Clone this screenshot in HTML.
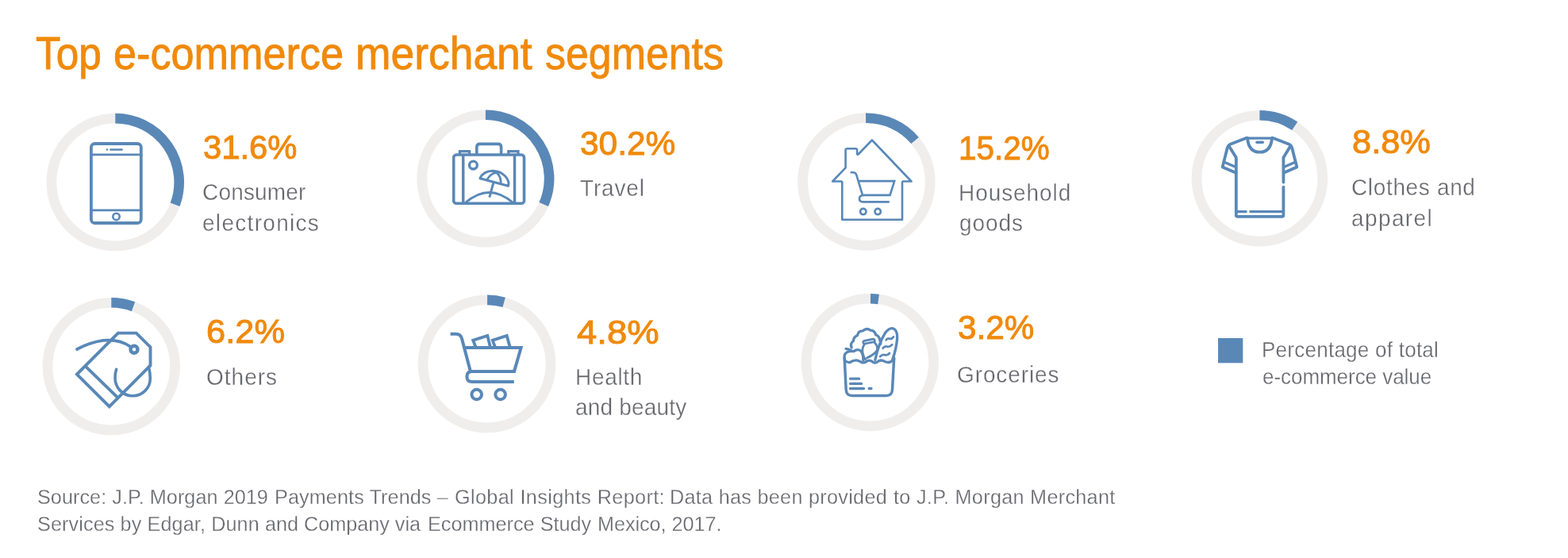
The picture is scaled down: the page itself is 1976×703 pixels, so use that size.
<!DOCTYPE html>
<html lang="en">
<head>
<meta charset="utf-8">
<title>Top e-commerce merchant segments</title>
<style>
html,body{margin:0;padding:0;background:#fff;}
body{width:1976px;height:703px;overflow:hidden;position:relative;font-family:"Liberation Sans",sans-serif;}
#g{position:absolute;left:0;top:0;width:1976px;height:703px;display:block;}
h1,p{margin:0;padding:0;font-size:inherit;font-weight:inherit;}
.x{position:absolute;white-space:nowrap;line-height:1;margin:0;padding:0;transform-origin:0 0;font-weight:400;}
.ic{fill:none;stroke:#5988B7;}
</style>
</head>
<body>
<svg id="g" width="1976" height="703" viewBox="0 0 1976 703" role="img" aria-label="Donut charts with icons for each merchant segment">
<circle cx="145.3" cy="229.5" r="80.40" fill="none" stroke="#F0EEED" stroke-width="12.8"/>
<path d="M145.30 149.10A80.40 80.40 0 0 1 220.56 257.79" fill="none" stroke="#5988B7" stroke-width="12.6"/>
<circle cx="611.9" cy="224.9" r="80.20" fill="none" stroke="#F0EEED" stroke-width="12.8"/>
<path d="M611.90 144.70A80.20 80.20 0 0 1 685.17 257.52" fill="none" stroke="#5988B7" stroke-width="12.6"/>
<circle cx="1091.9" cy="229.0" r="80.30" fill="none" stroke="#F0EEED" stroke-width="12.8"/>
<path d="M1091.06 148.70A80.30 80.30 0 0 1 1153.05 176.96" fill="none" stroke="#5988B7" stroke-width="12.6"/>
<circle cx="1587.4" cy="224.7" r="79.40" fill="none" stroke="#F0EEED" stroke-width="12.8"/>
<path d="M1587.40 145.30A79.40 79.40 0 0 1 1631.68 158.80" fill="none" stroke="#5988B7" stroke-width="12.6"/>
<circle cx="140.3" cy="461.6" r="80.30" fill="none" stroke="#F0EEED" stroke-width="12.8"/>
<path d="M140.30 381.30A80.30 80.30 0 0 1 168.03 386.24" fill="none" stroke="#5988B7" stroke-width="12.6"/>
<circle cx="613.5" cy="458.4" r="80.50" fill="none" stroke="#F0EEED" stroke-width="12.8"/>
<path d="M614.06 377.90A80.50 80.50 0 0 1 635.15 380.87" fill="none" stroke="#5988B7" stroke-width="12.6"/>
<circle cx="1096.3" cy="456.5" r="80.30" fill="none" stroke="#F0EEED" stroke-width="12.8"/>
<path d="M1097.00 376.20A80.30 80.30 0 0 1 1107.06 376.92" fill="none" stroke="#5988B7" stroke-width="12.6"/>
<rect x="1535" y="426" width="31.3" height="31.3" fill="#5988B7"/>
<!-- phone -->
<g class="ic" stroke-width="3.8" stroke-linecap="butt" stroke-linejoin="round">
<rect x="114.9" y="181" width="62.9" height="100" rx="4.6" ry="4.6"/>
<path d="M115 194.800H178M115 264.800H178" stroke-width="2.8"/>
<circle cx="146.5" cy="272.9" r="4.2" stroke-width="2.6"/>
<path d="M139.4 188.5H153.6" stroke-width="2.6" stroke-linecap="round"/>
<path d="M135 188.5h0.01" stroke-width="2.4" stroke-linecap="round"/>
</g>
<!-- suitcase -->
<g class="ic" stroke-width="3.6" stroke-linecap="butt" stroke-linejoin="round">
<rect x="571.7" y="195" width="88.8" height="61.3" rx="3.4" ry="3.4"/>
<path d="M600.8 195V185.4Q600.8 181.4 604.8 181.4H627.6Q631.6 181.4 631.6 185.4V195"/>
<path d="M579.4 195V190.7H591.6V195M640.8 195V190.7H653V195" stroke-linejoin="miter" stroke-width="3.2"/>
<path d="M583.7 195V256.3M648.5 195V256.3" stroke-width="3.5"/>
<circle cx="596.4" cy="208.1" r="4.9" stroke-width="3.3"/>
<path d="M586.5 255.5Q616.5 229.5 646.5 255.5" stroke-width="3"/>
<path d="M604.9 224.700C608 218.300 614 215.300 621 215.300C631 215.600 639.800 222 641 230.500L640.500 234.300Z" stroke-width="3"/>
<path d="M613.900 226.400Q617.300 219 625.600 217.300Q631.600 222 631.200 231.600" stroke-width="2.800"/>
<path d="M622 229.6L616.8 248.6" stroke-width="3"/>
</g>
<!-- house + cart -->
<g class="ic" stroke-width="2.6" stroke-linecap="butt" stroke-linejoin="round">
<path d="M1098.9 176.500L1148.500 228.500H1138.500Q1137 228.500 1137 230V276.800H1061.300V230Q1061.300 228.500 1059.800 228.500H1049.200L1065.600 211.300V189.200Q1065.600 187.300 1067.500 187.300H1078.200Q1080.100 187.300 1080.100 189.200V193.300Q1080.100 195.800 1082 194L1098.900 176.500Z"/>
<path d="M1071.700 217.200H1075.200Q1078.400 217.200 1079.300 220.500L1087 245.900H1121.600L1127.200 228.100H1081.800" stroke-linejoin="miter"/>
<path d="M1087.200 246Q1083 246.700 1083 250.300Q1083 254.400 1087.500 254.400H1120.800"/>
<circle cx="1087.800" cy="266.600" r="3.700"/>
<circle cx="1106.200" cy="266.600" r="3.700"/>
</g>
<!-- t-shirt -->
<g class="ic" stroke-width="3.8" stroke-linecap="round" stroke-linejoin="round">
<path d="M1570.500 174.100H1604.400" stroke-width="3.200" stroke-linecap="butt"/>
<path d="M1603.900 173.700L1624.600 181.800Q1627.300 183 1628.100 186L1634.300 210.400L1617.600 217.800"/>
<path d="M1571 173.700L1550.300 181.800Q1547.600 183 1546.800 186L1540.600 210.400L1557.600 217.800"/>
<path d="M1548.600 183.800L1557.800 198.600V271Q1557.800 272.900 1559.700 272.900H1615.500Q1617.400 272.900 1617.400 271V235.600M1617.400 229.600V198.600L1626.400 183.800"/>
<path d="M1572 174Q1573.600 191.700 1587.500 191.700Q1601.400 191.700 1603 174"/>
<path d="M1583.900 179.200H1591.300" stroke-width="3.4"/>
<path d="M1542.800 204.300L1557.400 210.600M1632.200 204.300L1617.800 210.600" stroke-width="3.3" stroke-linecap="butt"/>
<path d="M1559 266.600H1570.200M1575.800 266.600H1616" stroke-width="3.3"/>
</g>
<!-- tags -->
<g class="ic" stroke-width="3.9" stroke-linejoin="miter" stroke-linecap="butt">
<path d="M148.800 419.600H171.700L189.500 437.200V460.500L137.800 512.200L96.900 471.600Z"/>
<path d="M107.100 460.800L148.800 501.400"/>
<circle cx="169" cy="440.300" r="4.500" stroke-width="4.400"/>
<path d="M97 440Q113 431.400 130 428.900Q151 427 164 436.600" stroke-linecap="round" stroke-width="3.700"/>
<path d="M146.600 465.300C145.500 468.500 145 472 145 476C145 488.600 154.900 498.800 167 498.800C179.300 498.800 189.300 489 189.300 477C189.300 472.500 188.800 468 187.800 463.900" stroke-linecap="round" stroke-width="3.600"/>
</g>
<!-- cart -->
<g class="ic" stroke-width="4" stroke-linejoin="miter" stroke-linecap="butt">
<path d="M567.600 420.800H574.500Q580.300 420.800 582 426.500L592.900 467.900H648L656.600 438.100H585.500"/>
<path d="M593.500 467.900Q588.400 468.600 588.400 474.500Q588.400 481.100 595 481.100H647.800"/>
<circle cx="600.700" cy="497" r="6.300"/>
<circle cx="630.600" cy="497" r="6.300"/>
<path d="M599.400 437L596.200 428.800L614.300 422.900L617.800 437" stroke-width="3.800"/>
<path d="M623.800 437L620.800 428.800L638.700 422.900L642.600 437" stroke-width="3.800"/>
</g>
<!-- groceries -->
<g class="ic" stroke-width="3.300" stroke-linecap="round" stroke-linejoin="round">
<path d="M1064.200 451L1066.200 491Q1066.700 498.500 1074 498.500H1116.600Q1124 498.500 1124.500 491L1126.700 451" stroke-width="3.500"/>
<path d="M1064.400 453.800Q1067.500 457 1071 456.500Q1075.500 453.600 1079.500 453.800Q1083 454.500 1086.500 456.800Q1090 457.500 1093.500 454.500Q1097 453.200 1100.500 456.500Q1103.500 458 1107 455Q1111 452.800 1115 455.500Q1119.500 457.500 1123 455.500L1126.500 452.600"/>
<path d="M1071.600 477.200H1082.600M1071.600 483.400H1085.600M1071.600 489.500H1088.600M1095.200 489.500H1098"/>
<!-- baguette -->
<path d="M1102.800 453.500Q1107.500 432 1115.300 419.800Q1120.500 412.500 1125.500 413.800Q1131 416 1130.700 426Q1129.500 440 1124.600 453.500"/>
<path d="M1116.600 428.400Q1118.500 425.500 1121.300 426.800Q1124 427.400 1126 424.500M1112.700 438.600Q1115 435.500 1118 436.800Q1121.500 437.600 1124.200 434.200M1109.200 449.200Q1112 446 1115 447.200Q1118.500 448 1121 445" stroke-width="2.800"/>
<!-- lettuce -->
<path d="M1073.200 438Q1071 432.500 1075.500 429.500Q1075.500 424.500 1080.600 422.500Q1081.500 416.500 1087.500 416.800Q1092 412.500 1097 416.200Q1102.500 416.500 1103.500 421.800Q1108.500 423.500 1108.800 429Q1110.500 431 1109.600 433.500"/>
<!-- jar -->
<path d="M1089.300 429.300L1100.200 427.200Q1102 427 1102.300 428.700Q1102.600 430.500 1100.800 430.900L1089.900 433Q1088.100 433.200 1087.800 431.500Q1087.600 429.700 1089.300 429.300Z" stroke-width="2.800"/>
<path d="M1089.500 433.500Q1085.500 439.500 1087.500 446Q1088.500 450 1090.500 453M1102 431.500Q1106.500 436 1105.500 441Q1103 446 1092.500 451" stroke-width="2.800"/>
<!-- apple -->
<path d="M1064.200 451.500Q1063.200 445.500 1068.300 443.200Q1073 441.800 1076 442.600Q1080.500 439 1084.500 441.800Q1088.200 446 1087.800 454"/>
<path d="M1073.500 442.500Q1070.500 439.800 1066 439.400"/>
</g>
</svg>
<h1>
<span class="x t" id="t0" style="left:44.82px;top:38.51px;font-size:57.3px;color:#F08A0C;letter-spacing:0.000px;transform:scaleX(0.8956);-webkit-text-stroke:0.9px #F08A0C;">Top</span>
<span class="x t" id="t1" style="left:142.88px;top:38.51px;font-size:57.3px;color:#F08A0C;letter-spacing:0.000px;transform:scaleX(0.9108);-webkit-text-stroke:0.9px #F08A0C;">e-commerce</span>
<span class="x t" id="t2" style="left:447.81px;top:38.51px;font-size:57.3px;color:#F08A0C;letter-spacing:0.000px;transform:scaleX(0.9322);-webkit-text-stroke:0.9px #F08A0C;">merchant</span>
<span class="x t" id="t3" style="left:686.81px;top:38.51px;font-size:57.3px;color:#F08A0C;letter-spacing:0.000px;transform:scaleX(0.9056);-webkit-text-stroke:0.9px #F08A0C;">segments</span>
</h1>
<div class="x p" id="t4" style="left:256.19px;top:163.50px;font-size:43.3px;color:#F08A0C;letter-spacing:0.000px;transform:scaleX(0.9646);-webkit-text-stroke:1px #F08A0C;">31.6%</div>
<div class="x l" id="t5" style="left:255.28px;top:225.90px;font-size:30.4px;color:#66676D;letter-spacing:0.223px;transform:scaleX(0.9200);-webkit-text-stroke:0.35px #fff;">Consumer</div>
<div class="x l" id="t6" style="left:255.28px;top:264.60px;font-size:30.4px;color:#66676D;letter-spacing:1.435px;transform:scaleX(0.9200);-webkit-text-stroke:0.35px #fff;">electronics</div>
<div class="x p" id="t7" style="left:731.19px;top:158.50px;font-size:43.3px;color:#F08A0C;letter-spacing:0.000px;transform:scaleX(0.9796);-webkit-text-stroke:1px #F08A0C;">30.2%</div>
<div class="x l" id="t8" style="left:731.41px;top:220.90px;font-size:30.4px;color:#66676D;letter-spacing:0.936px;transform:scaleX(0.9200);-webkit-text-stroke:0.35px #fff;">Travel</div>
<div class="x p" id="t9" style="left:1208.01px;top:164.90px;font-size:43.3px;color:#F08A0C;letter-spacing:0.000px;transform:scaleX(0.9343);-webkit-text-stroke:1px #F08A0C;">15.2%</div>
<div class="x l" id="t10" style="left:1208.26px;top:226.60px;font-size:30.4px;color:#66676D;letter-spacing:1.027px;transform:scaleX(0.9200);-webkit-text-stroke:0.35px #fff;">Household</div>
<div class="x l" id="t11" style="left:1208.80px;top:264.60px;font-size:30.4px;color:#66676D;letter-spacing:1.052px;transform:scaleX(0.9200);-webkit-text-stroke:0.35px #fff;">goods</div>
<div class="x p" id="t12" style="left:1703.61px;top:156.50px;font-size:43.3px;color:#F08A0C;letter-spacing:0.000px;transform:scaleX(1.0019);-webkit-text-stroke:1px #F08A0C;">8.8%</div>
<div class="x l" id="t13" style="left:1702.82px;top:220.00px;font-size:30.4px;color:#66676D;letter-spacing:0.727px;transform:scaleX(0.9200);-webkit-text-stroke:0.35px #fff;">Clothes and</div>
<div class="x l" id="t14" style="left:1703.12px;top:259.11px;font-size:30.4px;color:#66676D;letter-spacing:1.535px;transform:scaleX(0.9200);-webkit-text-stroke:0.35px #fff;">apparel</div>
<div class="x p" id="t15" style="left:260.02px;top:396.11px;font-size:43.3px;color:#F08A0C;letter-spacing:0.000px;transform:scaleX(1.0032);-webkit-text-stroke:1px #F08A0C;">6.2%</div>
<div class="x l" id="t16" style="left:259.72px;top:458.71px;font-size:30.4px;color:#66676D;letter-spacing:1.112px;transform:scaleX(0.9200);-webkit-text-stroke:0.35px #fff;">Others</div>
<div class="x p" id="t17" style="left:727.00px;top:396.70px;font-size:43.3px;color:#F08A0C;letter-spacing:0.000px;transform:scaleX(1.0497);-webkit-text-stroke:1px #F08A0C;">4.8%</div>
<div class="x l" id="t18" style="left:724.70px;top:458.90px;font-size:30.4px;color:#66676D;letter-spacing:0.764px;transform:scaleX(0.9200);-webkit-text-stroke:0.35px #fff;">Health</div>
<div class="x l" id="t19" style="left:725.23px;top:496.90px;font-size:30.4px;color:#66676D;letter-spacing:0.235px;transform:scaleX(0.9200);-webkit-text-stroke:0.35px #fff;">and beauty</div>
<div class="x p" id="t20" style="left:1207.30px;top:390.80px;font-size:43.3px;color:#F08A0C;letter-spacing:0.000px;transform:scaleX(0.9753);-webkit-text-stroke:1px #F08A0C;">3.2%</div>
<div class="x l" id="t21" style="left:1205.81px;top:456.10px;font-size:30.4px;color:#66676D;letter-spacing:0.995px;transform:scaleX(0.9200);-webkit-text-stroke:0.35px #fff;">Groceries</div>
<div class="x g" id="t22" style="left:1589.93px;top:427.11px;font-size:27.9px;color:#66676D;letter-spacing:0.305px;transform:scaleX(0.9300);-webkit-text-stroke:0.3px #fff;">Percentage of total</div>
<div class="x g" id="t23" style="left:1591.04px;top:461.11px;font-size:27.9px;color:#66676D;letter-spacing:-0.011px;transform:scaleX(0.9300);-webkit-text-stroke:0.3px #fff;">e-commerce value</div>
<p>
<span class="x s" id="t24" style="left:47.24px;top:613.00px;font-size:26.5px;color:#66676D;letter-spacing:0.075px;transform:scaleX(0.9500);-webkit-text-stroke:0.3px #fff;">Source: J.P. Morgan 2019</span>
<span class="x s" id="t25" style="left:346.39px;top:613.00px;font-size:26.5px;color:#66676D;letter-spacing:0.117px;transform:scaleX(0.9500);-webkit-text-stroke:0.3px #fff;">Payments Trends –</span>
<span class="x s" id="t26" style="left:573.20px;top:613.00px;font-size:26.5px;color:#66676D;letter-spacing:0.406px;transform:scaleX(0.9500);-webkit-text-stroke:0.3px #fff;">Global Insights Report:</span>
<span class="x s" id="t27" style="left:843.88px;top:613.00px;font-size:26.5px;color:#66676D;letter-spacing:0.320px;transform:scaleX(0.9500);-webkit-text-stroke:0.3px #fff;">Data has been provided</span>
<span class="x s" id="t28" style="left:1126.05px;top:613.00px;font-size:26.5px;color:#66676D;letter-spacing:0.327px;transform:scaleX(0.9500);-webkit-text-stroke:0.3px #fff;">to J.P. Morgan Merchant</span>
<span class="x s" id="t29" style="left:47.24px;top:647.11px;font-size:26.5px;color:#66676D;letter-spacing:0.125px;transform:scaleX(0.9500);-webkit-text-stroke:0.3px #fff;">Services by Edgar, Dunn</span>
<span class="x s" id="t30" style="left:334.23px;top:647.11px;font-size:26.5px;color:#66676D;letter-spacing:0.009px;transform:scaleX(0.9500);-webkit-text-stroke:0.3px #fff;">and Company via</span>
<span class="x s" id="t31" style="left:538.90px;top:647.11px;font-size:26.5px;color:#66676D;letter-spacing:0.037px;transform:scaleX(0.9500);-webkit-text-stroke:0.3px #fff;">Ecommerce Study</span>
<span class="x s" id="t32" style="left:752.50px;top:647.11px;font-size:26.5px;color:#66676D;letter-spacing:-0.030px;transform:scaleX(0.9500);-webkit-text-stroke:0.3px #fff;">Mexico, 2017.</span>
</p>
</body>
</html>
